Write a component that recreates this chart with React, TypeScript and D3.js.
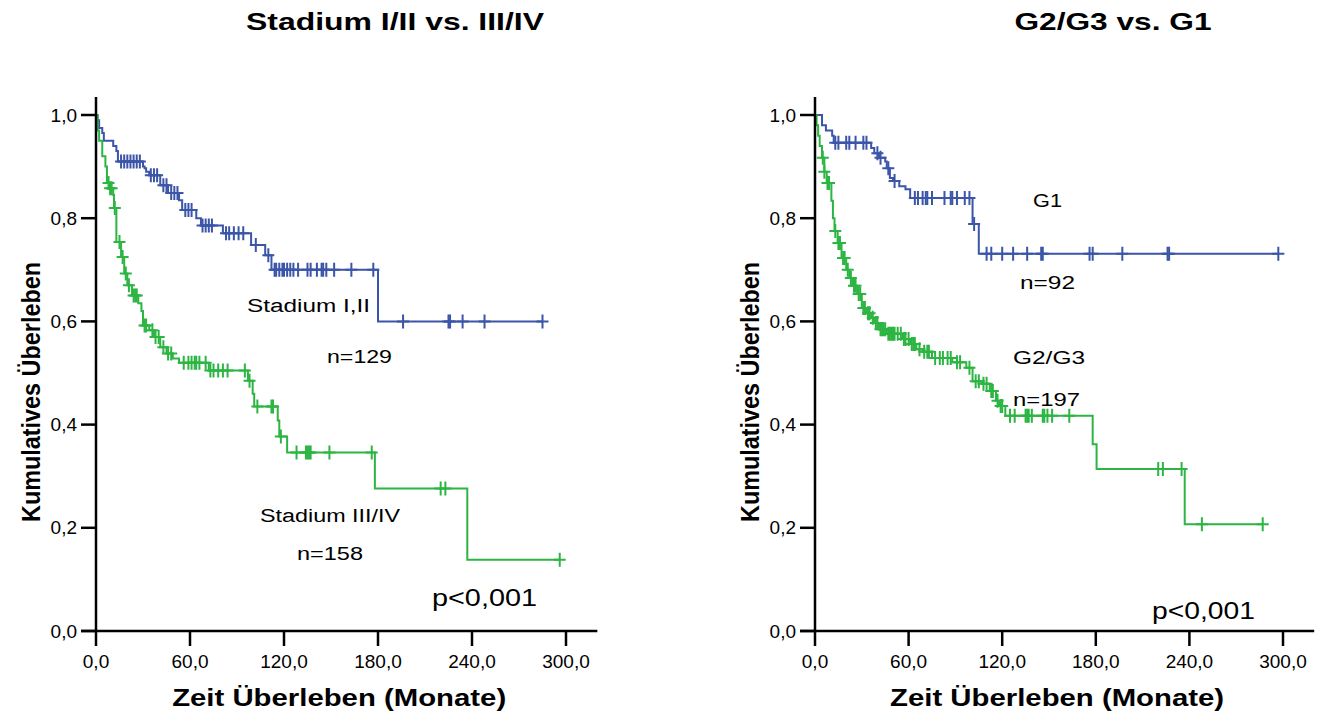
import React from "react";
import * as d3 from "d3";

// Kaplan–Meier survival, two comparisons side by side.
// Each curve: steps = [month, survival from that month on], censored = months with "+" marks, end = last follow-up.

const stageEarlySteps: [number, number][] = [
  [0, 1.0], [1, 0.99], [2, 0.975], [4, 0.965], [5, 0.95], [11, 0.94], [13, 0.93], [14, 0.91],
  [30, 0.9], [31, 0.897], [32, 0.89], [34, 0.883], [41, 0.864], [46, 0.849], [53, 0.835],
  [55, 0.816], [64, 0.8], [67, 0.786], [81, 0.771], [99, 0.748], [108, 0.728], [112, 0.7], [180, 0.6],
];
const stageEarlyCensored = [
  16, 18, 20, 22, 24, 26, 28, 35, 37, 39, 43, 45, 48, 50, 52, 57, 59, 61, 68, 70, 72, 74,
  83, 85, 88, 91, 94, 102, 110, 114, 115, 117, 119, 120, 122, 124, 126, 129, 135, 137, 141,
  144, 145, 147, 152, 163, 177, 196, 225, 226, 234, 248, 285,
];
const stageEarlyEnd = 285;

const stageLateSteps: [number, number][] = [
  [0, 1.0], [1, 0.97], [2, 0.95], [4, 0.92], [6, 0.9], [7, 0.868], [9, 0.858], [11, 0.845],
  [11.5, 0.82], [13, 0.754], [16, 0.725], [18, 0.693], [20, 0.67], [23, 0.65], [27, 0.635],
  [29, 0.62], [30, 0.592], [34, 0.583], [37, 0.57], [41, 0.55], [45, 0.538], [49, 0.528],
  [53, 0.52], [72, 0.505], [97, 0.485], [100, 0.46], [101, 0.435], [116, 0.408], [117, 0.377],
  [122, 0.346], [178, 0.276], [237, 0.138],
];
const stageLateCensored = [
  8, 9, 10, 12, 15, 17, 19, 21, 24, 25, 26, 31, 32, 36, 38, 40, 43, 46, 48, 56, 59, 61, 63,
  64, 66, 70, 73, 75, 78, 81, 84, 95, 98, 103, 112, 113, 118, 128, 134, 135, 136, 137, 149,
  176, 220, 223, 296,
];
const stageLateEnd = 296;

const gradeOneSteps: [number, number][] = [
  [0, 1.0], [4.5, 0.98], [7, 0.97], [11, 0.96], [12, 0.946], [36, 0.936], [38, 0.926],
  [41, 0.917], [45, 0.91], [46, 0.897], [48, 0.878], [50, 0.872], [54, 0.862], [58, 0.856],
  [61, 0.839], [101, 0.789], [105, 0.731],
];
const gradeOneCensored = [
  13, 15, 20, 22, 26, 31, 33, 40, 42, 47, 51, 64, 66, 69, 71, 72, 75, 83, 87, 88, 91, 96, 99,
  102, 110, 113, 120, 127, 136, 145, 146, 176, 178, 197, 226, 227, 297,
];
const gradeOneEnd = 297;

const gradeHighSteps: [number, number][] = [
  [0, 1.0], [1, 0.98], [2, 0.96], [3, 0.94], [4.5, 0.917], [6, 0.89], [7.5, 0.868],
  [10.5, 0.834], [11.5, 0.8], [12.5, 0.775], [14.5, 0.752], [17, 0.723], [20, 0.7], [22, 0.684],
  [24, 0.669], [27, 0.653], [30, 0.626], [33, 0.616], [36, 0.607], [38, 0.597], [41, 0.585],
  [46, 0.576], [56, 0.566], [61, 0.556], [65, 0.546], [69, 0.541], [75, 0.529], [88, 0.521],
  [97, 0.51], [101, 0.484], [107, 0.479], [112, 0.465], [116, 0.446], [118, 0.436], [122, 0.417],
  [178, 0.362], [180.5, 0.314], [237, 0.207],
];
const gradeHighCensored = [
  5, 6, 8, 9, 13, 15, 16, 18, 19, 21, 23, 25, 26, 28, 29, 31, 32, 34, 35, 37, 39, 40, 42, 43,
  44, 45, 47, 48, 49, 50, 51, 53, 55, 57, 58, 60, 62, 63, 64, 67, 70, 72, 73, 77, 80, 82, 85,
  87, 91, 93, 99, 103, 105, 108, 110, 113, 114, 117, 119, 120, 125, 128, 135, 136, 137, 139,
  146, 147, 149, 152, 163, 220, 223, 235, 248, 287,
];
const gradeHighEnd = 287;

const xTicks = [0, 60, 120, 180, 240, 300];
const yTicks = [0, 0.2, 0.4, 0.6, 0.8, 1.0];
const fmt = (v: number) => v.toFixed(1).replace(".", ",");

const BLUE = "#3b55a8";
const GREEN = "#2db543";
const FONT = "'Liberation Sans', Arial, Helvetica, sans-serif";

type Curve = {
  steps: [number, number][];
  censored: number[];
  end: number;
  color: string;
};

type Label = { text: string; x: number; y: number; len: number; size: number };

type Panel = {
  title: string;
  titleLen: number;
  left: number;
  right: number;
  curves: Curve[];
  labels: Label[];
};

const panels: Panel[] = [
  {
    title: "Stadium I/II vs. III/IV",
    titleLen: 298,
    left: 96,
    right: 566,
    curves: [
      { steps: stageEarlySteps, censored: stageEarlyCensored, end: stageEarlyEnd, color: BLUE },
      { steps: stageLateSteps, censored: stageLateCensored, end: stageLateEnd, color: GREEN },
    ],
    labels: [
      { text: "Stadium I,II", x: 247, y: 312, len: 123, size: 18 },
      { text: "n=129", x: 327, y: 363, len: 65, size: 18 },
      { text: "Stadium III/IV", x: 260, y: 522, len: 140, size: 18 },
      { text: "n=158", x: 297, y: 560, len: 66, size: 18 },
      { text: "p<0,001", x: 432, y: 606, len: 105, size: 24 },
    ],
  },
  {
    title: "G2/G3 vs. G1",
    titleLen: 197,
    left: 815,
    right: 1283,
    curves: [
      { steps: gradeOneSteps, censored: gradeOneCensored, end: gradeOneEnd, color: BLUE },
      { steps: gradeHighSteps, censored: gradeHighCensored, end: gradeHighEnd, color: GREEN },
    ],
    labels: [
      { text: "G1", x: 1033, y: 207, len: 29, size: 18 },
      { text: "n=92", x: 1020, y: 289, len: 55, size: 18 },
      { text: "G2/G3", x: 1013, y: 364, len: 72, size: 18 },
      { text: "n=197", x: 1013, y: 406, len: 67, size: 18 },
      { text: "p<0,001", x: 1152, y: 619, len: 103, size: 24 },
    ],
  },
];

const Y_BOTTOM = 631;
const Y_TOP = 115;

function survivalAt(steps: [number, number][], t: number): number {
  const i = d3.bisector((d: [number, number]) => d[0]).right(steps, t) - 1;
  return steps[Math.max(0, i)][1];
}

function PanelView({ p }: { p: Panel }) {
  const x = d3.scaleLinear().domain([0, 300]).range([p.left, p.right]);
  const y = d3.scaleLinear().domain([0, 1]).range([Y_BOTTOM, Y_TOP]);
  const tickLen = 15;
  const axisRightX = x(320);
  const axisTopY = y(1.035);
  const cx = (x(0) - tickLen + axisRightX) / 2;
  const line = d3
    .line<[number, number]>()
    .x((d) => x(d[0]))
    .y((d) => y(d[1]))
    .curve(d3.curveStepAfter);

  return (
    <g>
      <text
        x={(p.left + p.right) / 2 + 64}
        y={30}
        textAnchor="middle"
        fontFamily={FONT}
        fontWeight="bold"
        fontSize={24}
        textLength={p.titleLen}
        lengthAdjust="spacingAndGlyphs"
      >
        {p.title}
      </text>

      {p.curves.map((c, i) => {
        const pts: [number, number][] = [...c.steps, [c.end, c.steps[c.steps.length - 1][1]]];
        return (
          <g key={i}>
            <path d={line(pts) || ""} fill="none" stroke={c.color} strokeWidth={2} />
            {c.censored.map((t, j) => {
              const px = x(t);
              const py = y(survivalAt(c.steps, t));
              return (
                <path
                  key={j}
                  d={`M${px - 6},${py}H${px + 6}M${px},${py - 7}V${py + 7}`}
                  stroke={c.color}
                  strokeWidth={2}
                  fill="none"
                />
              );
            })}
          </g>
        );
      })}

      {/* axes */}
      <line x1={x(0)} x2={x(0)} y1={axisTopY} y2={Y_BOTTOM + 1} stroke="#000" strokeWidth={2.5} />
      <line x1={x(0) - tickLen} x2={axisRightX} y1={Y_BOTTOM} y2={Y_BOTTOM} stroke="#000" strokeWidth={2.5} />
      {yTicks.map((v) => (
        <g key={v}>
          <line x1={x(0) - tickLen} x2={x(0)} y1={y(v)} y2={y(v)} stroke="#000" strokeWidth={2.5} />
          <text
            x={x(0) - tickLen - 4}
            y={y(v)}
            dy="0.35em"
            textAnchor="end"
            fontFamily={FONT}
            fontSize={19}
          >
            {fmt(v)}
          </text>
        </g>
      ))}
      {xTicks.map((v) => (
        <g key={v}>
          <line x1={x(v)} x2={x(v)} y1={Y_BOTTOM} y2={Y_BOTTOM + tickLen} stroke="#000" strokeWidth={2.5} />
          <text x={x(v)} y={668} textAnchor="middle" fontFamily={FONT} fontSize={19}>
            {fmt(v)}
          </text>
        </g>
      ))}

      <text
        x={cx}
        y={706}
        textAnchor="middle"
        fontFamily={FONT}
        fontWeight="bold"
        fontSize={24}
        textLength={334}
        lengthAdjust="spacingAndGlyphs"
      >
        Zeit Überleben (Monate)
      </text>
      <text
        transform={`translate(${p.left - 56},${392}) rotate(-90)`}
        textAnchor="middle"
        fontFamily={FONT}
        fontWeight="bold"
        fontSize={25}
        textLength={260}
        lengthAdjust="spacingAndGlyphs"
      >
        Kumulatives Überleben
      </text>

      {p.labels.map((l) => (
        <text
          key={l.text}
          x={l.x}
          y={l.y}
          fontFamily={FONT}
          fontSize={l.size}
          textLength={l.len}
          lengthAdjust="spacingAndGlyphs"
        >
          {l.text}
        </text>
      ))}
    </g>
  );
}

export default function App() {
  return (
    <svg
      width={1317}
      height={713}
      style={{ position: "absolute", left: 0, top: 0, background: "#fff" }}
    >
      <rect width={1317} height={713} fill="#fff" />
      {panels.map((p) => (
        <PanelView key={p.title} p={p} />
      ))}
    </svg>
  );
}
